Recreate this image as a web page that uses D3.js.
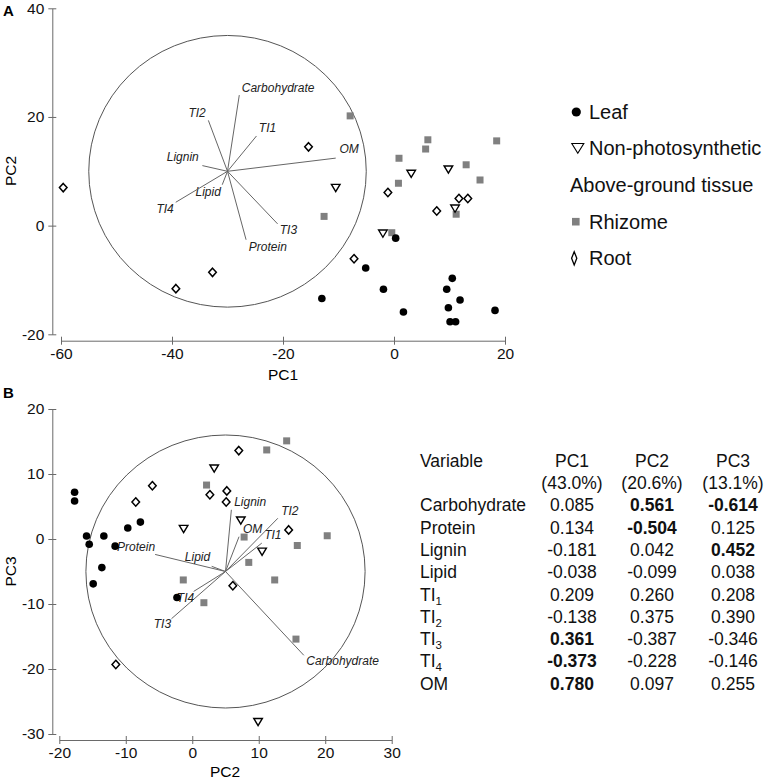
<!DOCTYPE html>
<html>
<head>
<meta charset="utf-8">
<script src="https://cdn.jsdelivr.net/npm/d3@7"></script>
<style>
  html, body { margin: 0; padding: 0; background: #fff; }
  svg { display: block; font-family: "Liberation Sans", Arial, sans-serif; }
</style>
</head>
<body>
<div id="chart"></div>
<script>
// ---------------- DATA ----------------
const variables = ["Carbohydrate", "Protein", "Lignin", "Lipid", "TI1", "TI2", "TI3", "TI4", "OM"];
const loadingPC1 = [0.085, 0.134, -0.181, -0.038, 0.209, -0.138, 0.361, -0.373, 0.780];
const loadingPC2 = [0.561, -0.504, 0.042, -0.099, 0.260, 0.375, -0.387, -0.228, 0.097];
const loadingPC3 = [-0.614, 0.125, 0.452, 0.038, 0.208, 0.390, -0.346, -0.146, 0.255];
const pcNames = ["PC1", "PC2", "PC3"];
const pcVariance = ["(43.0%)", "(20.6%)", "(13.1%)"];
// bold (significant) cells: [variable index, pc index]
const boldCells = [[0, 1], [0, 2], [1, 1], [2, 2], [6, 0], [7, 0], [8, 0]];

const legendLabels = ["Leaf", "Non-photosynthetic", "Above-ground tissue", "Rhizome", "Root"];

// Panel A: scores (PC1, PC2)
const leafA = [[0.3, -2.3], [-5.1, -7.8], [-1.9, -11.7], [-13.0, -13.4], [1.7, -15.9], [10.5, -9.7],
  [9.5, -11.7], [11.9, -13.7], [9.8, -15.1], [18.2, -15.6], [10.1, -17.7], [11.1, -17.7]];
const nonPhotoA = [[-10.5, 7.0], [3.1, 9.6], [9.8, 10.4], [11.0, 3.2], [-2.0, -1.4]];
const rhizomeA = [[-7.9, 20.2], [6.1, 15.8], [5.7, 14.1], [0.9, 12.4], [13.0, 11.2], [18.5, 15.6],
  [15.5, 8.4], [0.8, 7.8], [11.2, 2.1], [-12.6, 1.7], [-0.4, -1.3]];
const rootA = [[-59.6, 7.0], [-39.3, -11.6], [-32.7, -8.6], [-15.4, 14.5], [-1.1, 6.1], [7.7, 2.7],
  [11.7, 5.0], [13.3, 5.0], [-7.2, -6.1]];

// Panel B: scores (PC2, PC3)
const leafB = [[-17.7, 7.2], [-17.7, 5.85], [-15.9, 0.46], [-15.5, -0.8], [-13.3, 0.46], [-11.6, -1.1],
  [-9.7, 1.7], [-7.8, 2.6], [-13.6, -4.4], [-14.9, -6.9], [-2.3, -9.0]];
const nonPhotoB = [[3.3, 10.9], [-1.3, 1.6], [7.3, 2.9], [10.5, -1.9], [9.9, -28.1]];
const rhizomeB = [[2.15, 8.3], [-1.35, -6.3], [14.2, 15.1], [11.2, 13.7], [7.8, 0.3], [8.5, -3.6],
  [15.8, -1.0], [20.3, 0.5], [12.4, -6.3], [1.75, -9.8], [15.6, -15.4]];
const rootB = [[-8.5, 5.7], [-6.0, 8.2], [2.65, 6.8], [7.0, 13.6], [5.2, 7.4], [5.1, 5.7], [14.5, 1.4],
  [6.1, -7.2], [-11.5, -19.3]];

// Biplot circle: centre and radius (data units); loadings scaled by radius
const circleA = { cx: -30, cy: 10, r: 25 };
const circleB = { cx: 5, cy: -5, r: 21 };

const ticksAx = [-60, -40, -20, 0, 20];
const ticksAy = [-20, 0, 20, 40];
const ticksBx = [-20, -10, 0, 10, 20, 30];
const ticksBy = [-30, -20, -10, 0, 10, 20];

// ---------------- LAYOUT ----------------
const W = 767, H = 780;
const svg = d3.select("#chart").append("svg").attr("width", W).attr("height", H);

const axisColor = "#6a6a6a";
const tickFont = 15.5;
const hy = s => s.replace("\u2212", "-");
const fmtInt = d => hy(String(d));
const fmt3 = d => hy(d3.format(".3f")(d));

// label placement for loadings (dx, dy, anchor)
const labelPosA = {
  Carbohydrate: [2.5, -3.2, "start"], TI2: [-2.6, -3.4, "end"], TI1: [2.3, -4, "start"],
  Lignin: [-3.6, -4.7, "end"], Lipid: [-1.4, 10.8, "end"], TI4: [-2, 10.6, "end"],
  TI3: [2.2, 10, "start"], Protein: [2.7, 10.8, "start"], OM: [3.7, -4.7, "start"]
};
const labelPosB = {
  Carbohydrate: [2.4, 9.8, "start"], Protein: [0, -3.6, "end"], Lipid: [-1.5, -4.9, "end"],
  Lignin: [2.8, -3.7, "start"], TI2: [3.3, -3.5, "start"], TI1: [2.4, -4, "start"],
  OM: [4, -3.3, "start"], TI3: [-0.4, 9.3, "end"], TI4: [0.5, 10.7, "end"]
};

function drawAxes(g, x, y, xTicks, yTicks, yAxisX, xAxisY) {
  const ay = g.append("g").attr("transform", `translate(${yAxisX},0)`)
    .call(d3.axisLeft(y).tickValues(yTicks).tickSizeOuter(0).tickSizeInner(4).tickFormat(fmtInt));
  ay.select(".domain").attr("stroke", axisColor);
  ay.selectAll(".tick line").attr("stroke", axisColor).attr("x1", 4).attr("x2", -4);
  ay.selectAll(".tick text").attr("x", -8).attr("font-size", tickFont)
    .attr("font-family", "Liberation Sans, Arial, sans-serif").attr("fill", "#111");
  const ax = g.append("g").attr("transform", `translate(0,${xAxisY})`)
    .call(d3.axisBottom(x).tickValues(xTicks).tickSizeOuter(0).tickSizeInner(4).tickFormat(fmtInt));
  ax.select(".domain").attr("stroke", axisColor);
  ax.selectAll(".tick line").attr("stroke", axisColor).attr("y1", -4).attr("y2", 4);
  ax.selectAll(".tick text").attr("y", 7).attr("font-size", tickFont)
    .attr("font-family", "Liberation Sans, Arial, sans-serif").attr("fill", "#111");
}

function drawBiplot(g, x, y, circ, lx, ly, pos) {
  const cxp = x(circ.cx), cyp = y(circ.cy);
  g.append("ellipse").attr("cx", cxp).attr("cy", cyp)
    .attr("rx", Math.abs(x(circ.cx + circ.r) - cxp)).attr("ry", Math.abs(y(circ.cy + circ.r) - cyp))
    .attr("fill", "none").attr("stroke", "#555").attr("stroke-width", 1);
  variables.forEach((v, i) => {
    const ex = x(circ.cx + lx[i] * circ.r), ey = y(circ.cy + ly[i] * circ.r);
    g.append("line").attr("x1", cxp).attr("y1", cyp).attr("x2", ex).attr("y2", ey)
      .attr("stroke", "#666").attr("stroke-width", 1);
    const p = pos[v];
    g.append("text").attr("x", ex + p[0]).attr("y", ey + p[1]).attr("text-anchor", p[2])
      .attr("font-size", 12).attr("font-style", "italic").attr("fill", "#222").text(v);
  });
}

const triPath = "M-4.3,-3.2L4.3,-3.2L0,4Z";
const diaPath = "M0,-4.2L3.8,0L0,4.2L-3.8,0Z";

function drawPoints(g, x, y, leaf, nonPhoto, rhizome, root) {
  g.selectAll(null).data(rhizome).enter().append("rect")
    .attr("x", d => x(d[0]) - 3.5).attr("y", d => y(d[1]) - 3.5).attr("width", 7).attr("height", 7)
    .attr("fill", "#808080");
  g.selectAll(null).data(root).enter().append("path").attr("d", diaPath)
    .attr("transform", d => `translate(${x(d[0])},${y(d[1])})`)
    .attr("fill", "#fff").attr("stroke", "#000").attr("stroke-width", 1.5);
  g.selectAll(null).data(nonPhoto).enter().append("path").attr("d", triPath)
    .attr("transform", d => `translate(${x(d[0])},${y(d[1])})`)
    .attr("fill", "#fff").attr("stroke", "#000").attr("stroke-width", 1.4);
  g.selectAll(null).data(leaf).enter().append("circle")
    .attr("cx", d => x(d[0])).attr("cy", d => y(d[1])).attr("r", 3.8).attr("fill", "#000");
}

// ---------------- PANEL A ----------------
const xA = d3.scaleLinear().domain([-60, 20]).range([61, 505]);
const yA = d3.scaleLinear().domain([-20, 40]).range([334.3, 8.3]);
const gA = svg.append("g");
drawAxes(gA, xA, yA, ticksAx, ticksAy, 52.3, 340.7);
drawBiplot(gA, xA, yA, circleA, loadingPC1, loadingPC2, labelPosA);
drawPoints(gA, xA, yA, leafA, nonPhotoA, rhizomeA, rootA);
gA.append("text").attr("x", 283).attr("y", 380).attr("text-anchor", "middle").attr("font-size", 15.5).text("PC1");
gA.append("text").attr("transform", "translate(15.5,171) rotate(-90)").attr("text-anchor", "middle")
  .attr("font-size", 15.5).text("PC2");
svg.append("text").attr("x", 3).attr("y", 15.5).attr("font-size", 15).attr("font-weight", "bold").text("A");

// ---------------- PANEL B ----------------
const xB = d3.scaleLinear().domain([-20, 30]).range([59.3, 391.7]);
const yB = d3.scaleLinear().domain([-30, 20]).range([734, 409]);
const gB = svg.append("g");
drawAxes(gB, xB, yB, ticksBx, ticksBy, 52.3, 740);
drawBiplot(gB, xB, yB, circleB, loadingPC2, loadingPC3, labelPosB);
drawPoints(gB, xB, yB, leafB, nonPhotoB, rhizomeB, rootB);
gB.append("text").attr("x", 225).attr("y", 777).attr("text-anchor", "middle").attr("font-size", 15.5).text("PC2");
gB.append("text").attr("transform", "translate(15.5,571.5) rotate(-90)").attr("text-anchor", "middle")
  .attr("font-size", 15.5).text("PC3");
svg.append("text").attr("x", 3).attr("y", 398.3).attr("font-size", 15).attr("font-weight", "bold").text("B");

// ---------------- LEGEND ----------------
const legY = [112, 148.3, 185, 221.7, 258.3];
const legG = svg.append("g");
legendLabels.forEach((lab, i) => {
  const hasSym = i !== 2;
  legG.append("text").attr("x", hasSym ? 589 : 570).attr("y", legY[i] + 7)
    .attr("font-size", 20).attr("fill", "#111").text(lab);
});
legG.append("circle").attr("cx", 576.3).attr("cy", legY[0]).attr("r", 4.6).attr("fill", "#000");
legG.append("path").attr("d", "M-6,-4.8L6,-4.8L0,5Z").attr("transform", `translate(577.8,${legY[1]})`)
  .attr("fill", "none").attr("stroke", "#000").attr("stroke-width", 1.1);
legG.append("rect").attr("x", 572).attr("y", legY[3] - 3.8).attr("width", 7.6).attr("height", 7.6).attr("fill", "#808080");
legG.append("path").attr("d", "M0,-6.6L2.6,0L0,6.6L-2.6,0Z").attr("transform", `translate(574.2,${legY[4]})`)
  .attr("fill", "none").attr("stroke", "#000").attr("stroke-width", 1.3);

// ---------------- TABLE ----------------
const tab = svg.append("g").attr("font-size", 17.5).attr("fill", "#111");
const colX = [572, 652, 733];
const headY = 466.7, head2Y = 489, row0Y = 511.3, rowStep = 22.3;
tab.append("text").attr("x", 420).attr("y", headY).text("Variable");
pcNames.forEach((p, j) => {
  tab.append("text").attr("x", colX[j]).attr("y", headY).attr("text-anchor", "middle").text(p);
  tab.append("text").attr("x", colX[j]).attr("y", head2Y).attr("text-anchor", "middle").text(pcVariance[j]);
});
const cols = [loadingPC1, loadingPC2, loadingPC3];
variables.forEach((v, i) => {
  const yy = row0Y + i * rowStep;
  const t = tab.append("text").attr("x", 420).attr("y", yy);
  const m = v.match(/^TI(\d)$/);
  if (m) {
    t.append("tspan").text("TI");
    t.append("tspan").attr("dy", 4).attr("font-size", 11.5).text(m[1]);
  } else {
    t.text(v);
  }
  cols.forEach((c, j) => {
    const isBold = boldCells.some(b => b[0] === i && b[1] === j);
    tab.append("text").attr("x", colX[j]).attr("y", yy).attr("text-anchor", "middle")
      .attr("font-weight", isBold ? "bold" : "normal").text(fmt3(c[i]));
  });
});
</script>
</body>
</html>
